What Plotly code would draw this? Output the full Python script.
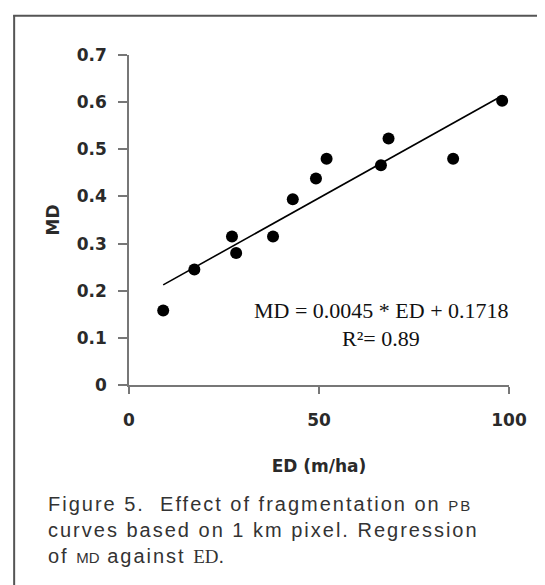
import plotly.graph_objects as go

# Data
ed = [9.0, 17.2, 27.1, 28.2, 37.9, 43.1, 49.2, 52.0, 66.3, 68.3, 85.3, 98.2]
md = [0.158, 0.245, 0.315, 0.280, 0.315, 0.394, 0.438, 0.480, 0.466, 0.523, 0.480, 0.603]
slope = 0.0045
intercept = 0.1718
r2 = 0.89
x_ticks = [0, 50, 100]
y_ticks = [0, 0.1, 0.2, 0.3, 0.4, 0.5, 0.6, 0.7]
y_tick_text = ["0", "0.1", "0.2", "0.3", "0.4", "0.5", "0.6", "0.7"]

W, H = 545, 585
L, R, T, B = 120.5, 44, 46.7, 208.3
pw, ph = W - L - R, H - T - B


def px(xp):
    return (xp - L) / pw


def py(yp):
    return (H - B - yp) / ph


fit_x = [min(ed), max(ed)]
fit_y = [slope * v + intercept for v in fit_x]

fig = go.Figure()
fig.add_trace(go.Scatter(x=fit_x, y=fit_y, mode="lines",
                         line=dict(color="black", width=1.6), hoverinfo="skip"))
fig.add_trace(go.Scatter(x=ed, y=md, mode="markers",
                         marker=dict(color="black", size=12)))

tickfont = dict(family="DejaVu Sans", size=17, color="#2a2a2a", weight=700)
titlefont = dict(family="DejaVu Sans", size=17, color="#2a2a2a", weight=700)
fig.update_layout(
    width=W, height=H,
    margin=dict(l=L, r=R, t=T, b=B, pad=0, autoexpand=False),
    paper_bgcolor="white", plot_bgcolor="white",
    showlegend=False,
    xaxis=dict(range=[0, 100], tickvals=x_ticks, showgrid=False, zeroline=False,
               showline=True, linecolor="#777", linewidth=1.5, automargin=False,
               ticks="outside", ticklen=7, tickcolor="#777", tickwidth=1.5,
               tickfont=tickfont, ticklabelstandoff=12,
               title=dict(text="ED (m/ha)", font=titlefont, standoff=31)),
    yaxis=dict(range=[0, 0.7], tickvals=y_ticks, ticktext=y_tick_text, showgrid=False,
               zeroline=False, showline=True, linecolor="#777", linewidth=1.5,
               automargin=False,
               ticks="outside", ticklen=9, tickcolor="#777", tickwidth=1.5,
               tickfont=tickfont, ticklabelstandoff=8,
               title=dict(text="MD", font=titlefont, standoff=13)),
)

serif = dict(family="Liberation Serif", size=22, color="#111")
fig.add_annotation(x=px(373), y=py(302), xref="paper", yref="paper",
                   text=f"MD = {slope} * ED + {intercept}", showarrow=False,
                   font=serif, xanchor="center", yanchor="middle")
fig.add_annotation(x=px(373), y=py(330), xref="paper", yref="paper",
                   text=f"R²= {r2}", showarrow=False,
                   font=serif, xanchor="center", yanchor="middle")

cap = dict(family="Liberation Sans", size=20, color="#333")
wrap = '<span style="letter-spacing:2px">{}</span>'
sc = '<span style="font-size:15px">{}</span>'
sf = '<span style="font-family:Liberation Serif;font-size:19px">{}</span>'
lines = [
    wrap.format("Figure 5.  Effect of fragmentation on ") + wrap.format(sc.format("PB")),
    wrap.format("curves based on 1 km pixel. Regression"),
    wrap.format("of ") + sc.format("MD") + wrap.format(" against ") + sf.format("ED") + ".",
]
for t, yp in zip(lines, [496, 522, 547.5]):
    fig.add_annotation(x=px(37.5), y=py(yp), xref="paper", yref="paper", text=t,
                       showarrow=False, font=cap, xanchor="left", yanchor="middle",
                       align="left")

# frame
fig.add_shape(type="line", xref="paper", yref="paper",
              x0=px(4.5), x1=px(560), y0=py(7.5), y1=py(7.5),
              line=dict(color="#555", width=2))
fig.add_shape(type="line", xref="paper", yref="paper",
              x0=px(5.5), x1=px(5.5), y0=py(7), y1=py(600),
              line=dict(color="#555", width=2))

fig.write_html("out.html")
